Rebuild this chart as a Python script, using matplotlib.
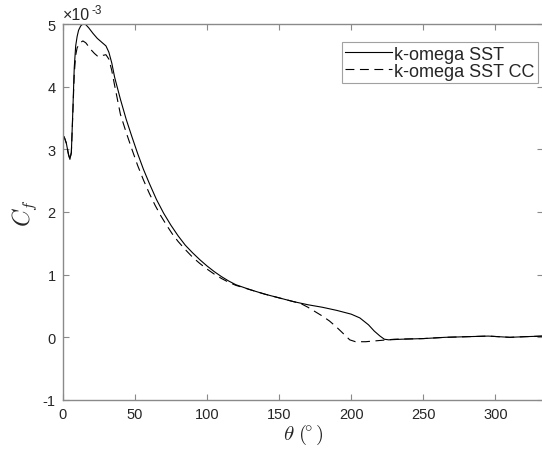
import matplotlib
matplotlib.use('Agg')
import matplotlib.pyplot as plt

# skin friction coefficient, values in units of 1e-3
theta_sst = [0, 1, 2.5, 4, 5, 6, 7, 8, 9, 10, 11, 12.5, 14, 16, 18, 21, 24, 27, 30,
             32, 34, 36, 40, 44, 48, 52, 56, 60, 65, 70, 75, 80, 85, 90, 95, 100,
             105, 110, 115, 120, 130, 140, 150, 160, 170, 180, 190, 200, 206, 212,
             216, 220, 223, 226, 235, 250, 265, 280, 295, 310, 320, 333]
cf_sst = [3.18, 3.20, 3.10, 2.92, 2.84, 2.95, 3.6, 4.3, 4.65, 4.8, 4.9, 4.97, 5.00,
          4.99, 4.94, 4.85, 4.77, 4.71, 4.65, 4.55, 4.38, 4.15, 3.80, 3.48, 3.20,
          2.93, 2.68, 2.46, 2.20, 1.98, 1.79, 1.62, 1.47, 1.35, 1.24, 1.14, 1.05,
          0.97, 0.90, 0.84, 0.76, 0.69, 0.63, 0.57, 0.52, 0.48, 0.43, 0.37, 0.31,
          0.20, 0.10, 0.02, -0.03, -0.04, -0.03, -0.02, 0.00, 0.01, 0.02, 0.00,
          0.01, 0.02]

theta_cc = [0, 1, 2.5, 4, 5, 6, 7, 8, 9, 10, 12, 14, 16, 18, 20, 22, 24, 26, 28, 30,
            32, 34, 36, 40, 44, 48, 52, 56, 60, 64, 68, 72, 76, 80, 85, 90, 95, 100,
            105, 110, 115, 120, 125, 130, 140, 150, 160, 165, 170, 175, 180, 185,
            190, 195, 199, 203, 210, 220, 230, 250, 265, 280, 295, 310, 320, 333]
cf_cc = [3.18, 3.20, 3.10, 2.92, 2.84, 2.95, 3.55, 4.2, 4.5, 4.62, 4.70, 4.73, 4.70,
         4.64, 4.58, 4.53, 4.49, 4.48, 4.50, 4.51, 4.44, 4.26, 4.02, 3.56, 3.27,
         3.00, 2.74, 2.51, 2.30, 2.11, 1.94, 1.79, 1.65, 1.53, 1.40, 1.28, 1.18,
         1.09, 1.01, 0.94, 0.88, 0.83, 0.795, 0.76, 0.69, 0.63, 0.57, 0.54, 0.48,
         0.41, 0.34, 0.26, 0.16, 0.05, -0.04, -0.07, -0.07, -0.05, -0.03, -0.02,
         0.00, 0.01, 0.02, 0.00, 0.01, 0.02]

plt.rcParams['font.family'] = ['Liberation Sans', 'DejaVu Sans']
plt.rcParams['axes.unicode_minus'] = False

fig = plt.figure(figsize=(5.42, 4.56), dpi=100)
ax = fig.add_axes([62.7 / 542, 1 - 401 / 456, (543 - 62.7) / 542, 376 / 456])

ax.plot(theta_sst, cf_sst, color='black', lw=0.8, label='k-omega SST')
ax.plot(theta_cc, cf_cc, color='black', lw=0.8, linestyle=(0, (8, 5)),
        label='k-omega SST CC')

ax.set_xlim(0, 333)
ax.set_ylim(-1, 5)
ax.set_xticks([0, 50, 100, 150, 200, 250, 300])
ax.set_yticks([-1, 0, 1, 2, 3, 4, 5])

for s in ax.spines.values():
    s.set_color('#8a8a8a')
    s.set_linewidth(1.0)
ax.tick_params(direction='in', length=4, width=0.8, color='#8a8a8a',
               labelcolor='#262626', labelsize=10.5, top=True, right=True, pad=5)

ax.set_xlabel(r'$\theta\ (\!\!{}^\circ)$', fontsize=15, math_fontfamily='cm',
              color='#262626', labelpad=1)
ax.set_ylabel(r'$C_f$', fontsize=17, math_fontfamily='cm', color='#262626',
              labelpad=3)

# exponent label like MATLAB
fig.text(63 / 542, 1 - 20 / 456, '\u00d710', fontsize=11.5, color='#262626',
         ha='left', va='baseline')
fig.text(92 / 542, 1 - 14 / 456, '-3', fontsize=8.5, color='#262626',
         ha='left', va='baseline')

leg = ax.legend(loc='upper right', bbox_to_anchor=(538 / 542, 1 - 43 / 456),
                bbox_transform=fig.transFigure, fontsize=13, fancybox=False,
                frameon=True, borderaxespad=0, handlelength=2.6,
                handletextpad=0.1, labelspacing=0.0, borderpad=0.2)
leg.get_frame().set_edgecolor('#8a8a8a')
leg.get_frame().set_linewidth(0.8)
for t in leg.get_texts():
    t.set_color('#262626')

fig.savefig('out.png', dpi=100)
